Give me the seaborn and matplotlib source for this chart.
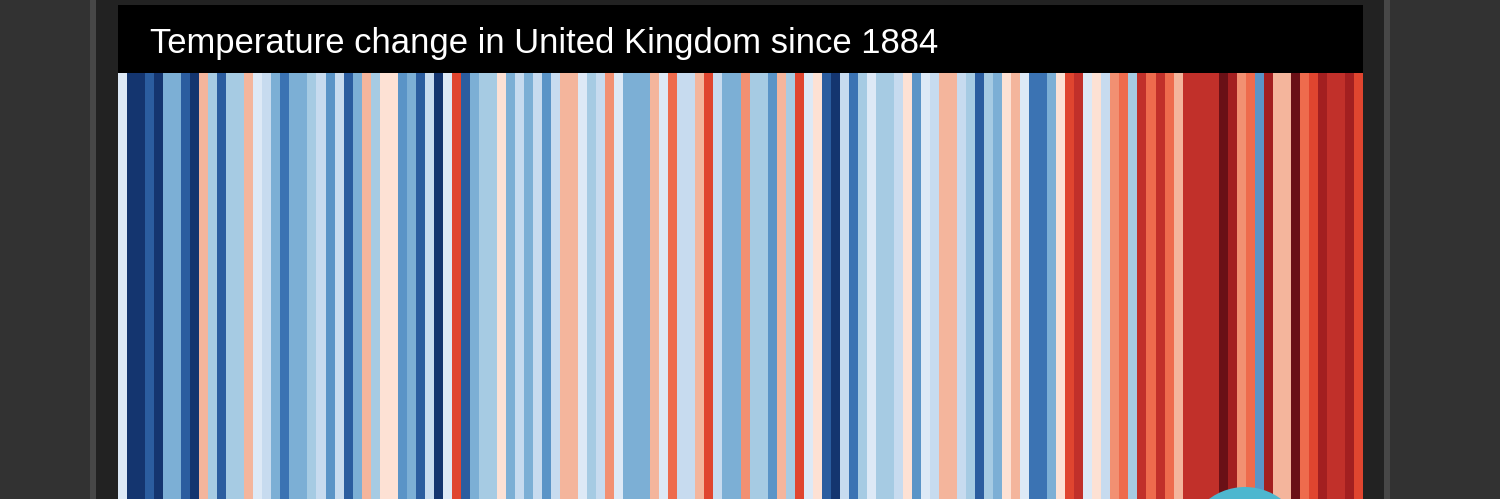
import numpy as np
import matplotlib
matplotlib.use("Agg")
import matplotlib.pyplot as plt
import matplotlib.patches as mpatches
from matplotlib.colors import ListedColormap
import seaborn as sns

# yearly temperature anomaly (deg C)
years = list(range(1884, 2022))
anomaly = [
    -0.08, -1.20, -1.20, -1.04, -1.20, -0.56, -0.56, -1.04, -1.20, 0.24,
    -0.40, -1.04, -0.40, -0.40, 0.24, -0.08, -0.24, -0.56, -0.88, -0.56,
    -0.56, -0.40, -0.24, -0.72, -0.24, -1.04, -0.56, 0.24, -0.40, 0.08,
    0.08, -0.72, -0.56, -1.04, -0.24, -1.20, -0.08, 0.72, -1.04, -0.56,
    -0.40, -0.40, 0.08, -0.56, -0.24, -0.56, -0.24, -0.72, -0.24, 0.24,
    0.24, -0.08, -0.40, -0.24, 0.40, -0.08, -0.56, -0.56, -0.56, 0.24,
    -0.08, 0.56, -0.24, -0.24, 0.24, 0.72, -0.24, -0.56, -0.56, 0.40,
    -0.40, -0.40, -0.72, 0.24, -0.40, 0.72, -0.08, 0.08, -1.04, -1.20,
    -0.24, -0.88, -0.40, -0.08, -0.40, -0.40, -0.24, 0.08, -0.72, -0.08,
    -0.24, 0.24, 0.24, -0.24, -0.40, -1.04, -0.40, -0.56, 0.08, 0.24,
    -0.08, -0.88, -0.88, -0.56, 0.08, 0.72, 0.88, -0.08, 0.08, -0.24,
    0.40, 0.56, -0.40, 0.88, 0.56, 0.88, 0.56, 0.24, 0.88, 0.88,
    0.88, 0.88, 1.20, 1.04, 0.40, 0.56, -0.72, 1.04, 0.24, 0.24,
    1.20, 0.56, 0.72, 1.04, 0.88, 0.88, 1.04, 0.72,
]
title = "Temperature change in United Kingdom since 1884"

stripe_colors = ["#14356f", "#2b5d9f", "#3b73b3", "#5a94c7", "#7cafd5", "#a6cbe3",
                 "#c7dbef", "#dde9f6", "#fde1d4", "#f4b59c", "#f29072", "#ee6b4d",
                 "#e0452f", "#c1302a", "#a31f20", "#6a1016"]
cmap = ListedColormap(stripe_colors)

W, H = 1500, 499
fig = plt.figure(figsize=(W / 100, H / 100), dpi=100)
fig.patch.set_facecolor("#323232")

# device bezel around the picture (behind the axes)
fig.patches.append(mpatches.Rectangle((90 / W, 0), 1300 / W, 1, transform=fig.transFigure,
                                      facecolor="#474747", edgecolor="none", zorder=-2))
fig.patches.append(mpatches.Rectangle((96 / W, 0), 1288 / W, 1, transform=fig.transFigure,
                                      facecolor="#222222", edgecolor="none", zorder=-2))
# black title bar
fig.patches.append(mpatches.Rectangle((118 / W, (H - 73) / H), 1245 / W, 68 / H,
                                      transform=fig.transFigure, facecolor="black",
                                      edgecolor="none", zorder=-1))
fig.text(150 / W, (H - 53) / H, title, color="white", fontsize=24.9,
         family="Liberation Sans", ha="left", va="baseline")

ax = fig.add_axes([118 / W, 0, 1245 / W, (H - 73) / H])
stripes = np.array(anomaly)[None, :]
sns.heatmap(stripes, ax=ax, cmap=cmap, vmin=-1.28, vmax=1.28, cbar=False,
            xticklabels=False, yticklabels=False)
ax.set_xlabel("")
ax.set_ylabel("")

# cyan button peeking in at the bottom
fig.patches.append(mpatches.Ellipse((1245 / W, (H - 547) / H), 120 / W, 120 / H,
                                    transform=fig.transFigure, facecolor="#4db7cf",
                                    edgecolor="none", zorder=10))

fig.savefig("out.png", dpi=100, facecolor=fig.get_facecolor())
